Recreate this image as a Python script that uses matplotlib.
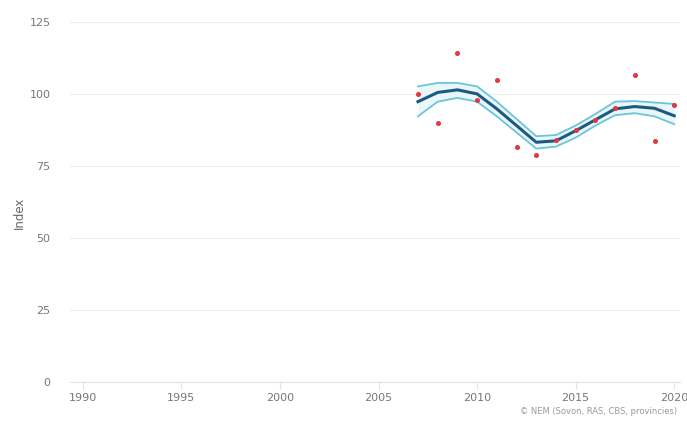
import matplotlib
matplotlib.use('Agg')
import matplotlib.pyplot as plt
import numpy as np

# yearly index values and smoothed trend with its confidence band
years = [2007, 2008, 2009, 2010, 2011, 2012, 2013, 2014, 2015, 2016, 2017, 2018, 2019, 2020]
index = [100.0, 89.8, 114.3, 98.0, 104.9, 81.6, 78.9, 84.0, 87.5, 91.0, 95.0, 106.6, 83.5, 96.2]
trend = [97.3, 100.5, 101.4, 100.0, 94.8, 89.0, 83.2, 83.7, 87.2, 91.0, 94.8, 95.6, 95.0, 92.4]
upper = [102.6, 103.8, 103.8, 102.6, 97.3, 91.3, 85.3, 85.7, 89.0, 93.0, 97.3, 97.5, 97.0, 96.5]
lower = [92.2, 97.3, 98.6, 97.3, 92.2, 86.6, 81.0, 81.7, 84.8, 89.0, 92.6, 93.3, 92.2, 89.5]

yticks = [0, 25, 50, 75, 100, 125]
xticks = [1990, 1995, 2000, 2005, 2010, 2015, 2020]

fig = plt.figure(figsize=(6.87, 4.21), dpi=100)
ax = fig.add_axes([0.102, 0.093, 0.888, 0.855])

ax.fill_between(years, lower, upper, color='#eaf7fa', lw=0, zorder=1)
ax.plot(years, upper, color='#6cc5d8', lw=1.3, zorder=2)
ax.plot(years, lower, color='#6cc5d8', lw=1.3, zorder=2)
ax.plot(years, trend, color='#1d5a80', lw=2.2, zorder=3)
ax.plot(years, index, 'o', color='#e0393e', ms=2.6, zorder=4)

ax.set_xlim(1989.35, 2020.3)
ax.set_ylim(0, 125)
ax.set_yticks(yticks)
ax.set_xticks(xticks)
ax.grid(axis='y', color='#ececec', lw=0.9)
ax.set_axisbelow(True)
for s in ['top', 'right', 'left']:
	ax.spines[s].set_visible(False)
ax.spines['bottom'].set_color('#e3e3e3')
ax.tick_params(axis='y', length=0, pad=14, labelsize=8, labelcolor='#777777')
ax.tick_params(axis='x', length=5, color='#e3e3e3', labelsize=8, labelcolor='#777777', pad=3)
ax.set_ylabel('Index', fontsize=8.5, color='#666666')
ax.yaxis.set_label_coords(-0.072, 0.47)

fig.text(0.985, 0.012, '\u00a9 NEM (Sovon, RAS, CBS, provincies)', ha='right', va='bottom',
	fontsize=6, color='#999999')

plt.savefig('out.png', dpi=100)
